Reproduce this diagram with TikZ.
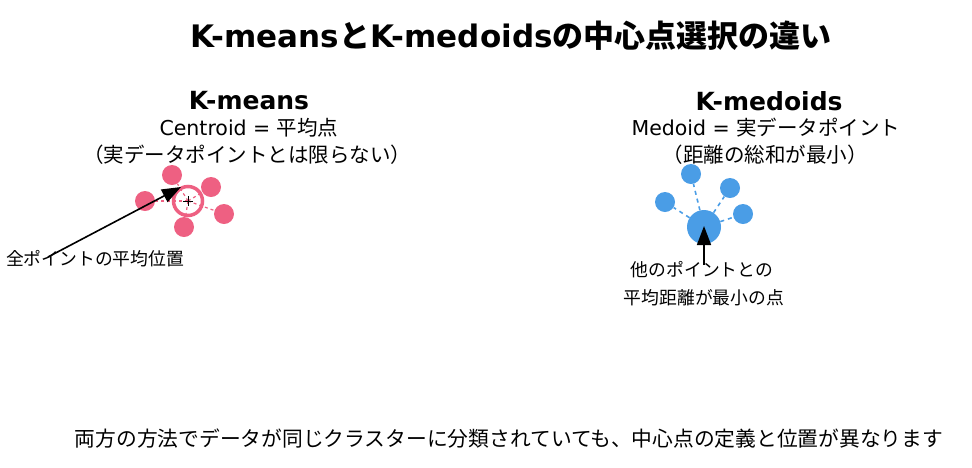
\documentclass[tikz,border=0pt]{standalone}
\usepackage{fontspec}
\setmainfont{Noto Sans CJK JP}
\newfontfamily\latf{DejaVu Sans}
\newcommand\lt[1]{{\latf #1}}
\usetikzlibrary{arrows.meta,calc}
\definecolor{pinkc}{RGB}{238,96,130}
\definecolor{bluec}{RGB}{74,157,230}
\begin{document}
\begin{tikzpicture}[x=1pt,y=-1pt,
  txt/.style={inner sep=0pt,anchor=center},
  ttl/.style={txt,font=\bfseries\fontsize{31}{35}\selectfont},
  hdr/.style={txt,font=\bfseries\fontsize{25}{29}\selectfont},
  sub/.style={txt,font=\fontsize{20.5}{24}\selectfont},
  lbl/.style={txt,font=\fontsize{17.8}{21}\selectfont},
  note/.style={txt,font=\fontsize{20.75}{25}\selectfont},
  ppt/.style={circle,fill=pinkc,draw=none,minimum size=20pt,inner sep=0pt},
  bpt/.style={circle,fill=bluec,draw=none,minimum size=20pt,inner sep=0pt},
  pdash/.style={pinkc,line width=1.2pt,dash pattern=on 3pt off 3pt},
  bdash/.style={bluec,line width=1.6pt,dash pattern=on 4pt off 4pt},
  arr/.style={black,line width=1.6pt,-{Triangle[length=19pt,width=14pt]}}
]
\useasboundingbox (0,0) rectangle (972,467);
% title
\node[ttl] (title) at (511,36) {\lt{K-means}と\lt{K-medoids}の中心点選択の違い};
% left side
\node[hdr] (hk) at (249,101) {\lt{K-means}};
\node[sub] (hk1) at (249,128) {\lt{Centroid = }平均点};
\node[sub] (hk2) at (247,155) {（実データポイントとは限らない）};
\node[circle,draw=pinkc,fill=white,line width=3.5pt,minimum size=29pt,inner sep=0pt] (cen) at (188,201) {};
\node[ppt] (p1) at (172,175) {};
\node[ppt] (p2) at (145,201) {};
\node[ppt] (p3) at (211,187) {};
\node[ppt] (p4) at (224,214) {};
\node[ppt] (p5) at (184,227) {};
\foreach \p in {p1,p2,p3,p4,p5} \draw[pdash] (cen.center) -- (\p);
\draw[black,line width=0.8pt] ($(cen.center)+(-5,0)$) -- ($(cen.center)+(5,0)$);
\draw[black,line width=0.8pt] ($(cen.center)+(0,-5)$) -- ($(cen.center)+(0,5)$);
\node[lbl] (la) at (95,259) {全ポイントの平均位置};
\coordinate (las) at (48,257);
\coordinate (lat) at (181,187);
\draw[arr] (las) -- (lat);
% right side
\node[hdr] (hm) at (769,101) {\lt{K-medoids}};
\node[sub] (hm1) at (766,128) {\lt{Medoid = }実データポイント};
\node[sub] (hm2) at (765,155) {（距離の総和が最小）};
\node[bpt] (b1) at (691,174) {};
\node[bpt] (b2) at (665,202) {};
\node[bpt] (b3) at (730,188) {};
\node[bpt] (b4) at (743,214) {};
\node[bpt,minimum size=34pt] (bc) at (704,227) {};
\foreach \p in {b1,b2,b3,b4} \draw[bdash] (bc) -- (\p);
\node[lbl] (lb1) at (702,270) {他のポイントとの};
\node[lbl] (lb2) at (704,298) {平均距離が最小の点};
\coordinate (bas) at (704,265);
\coordinate (bat) at (704,226);
\draw[arr] (bas) -- (bat);
% bottom
\node[note] (nt) at (509,439) {両方の方法でデータが同じクラスターに分類されていても、中心点の定義と位置が異なります};
\end{tikzpicture}
\end{document}
